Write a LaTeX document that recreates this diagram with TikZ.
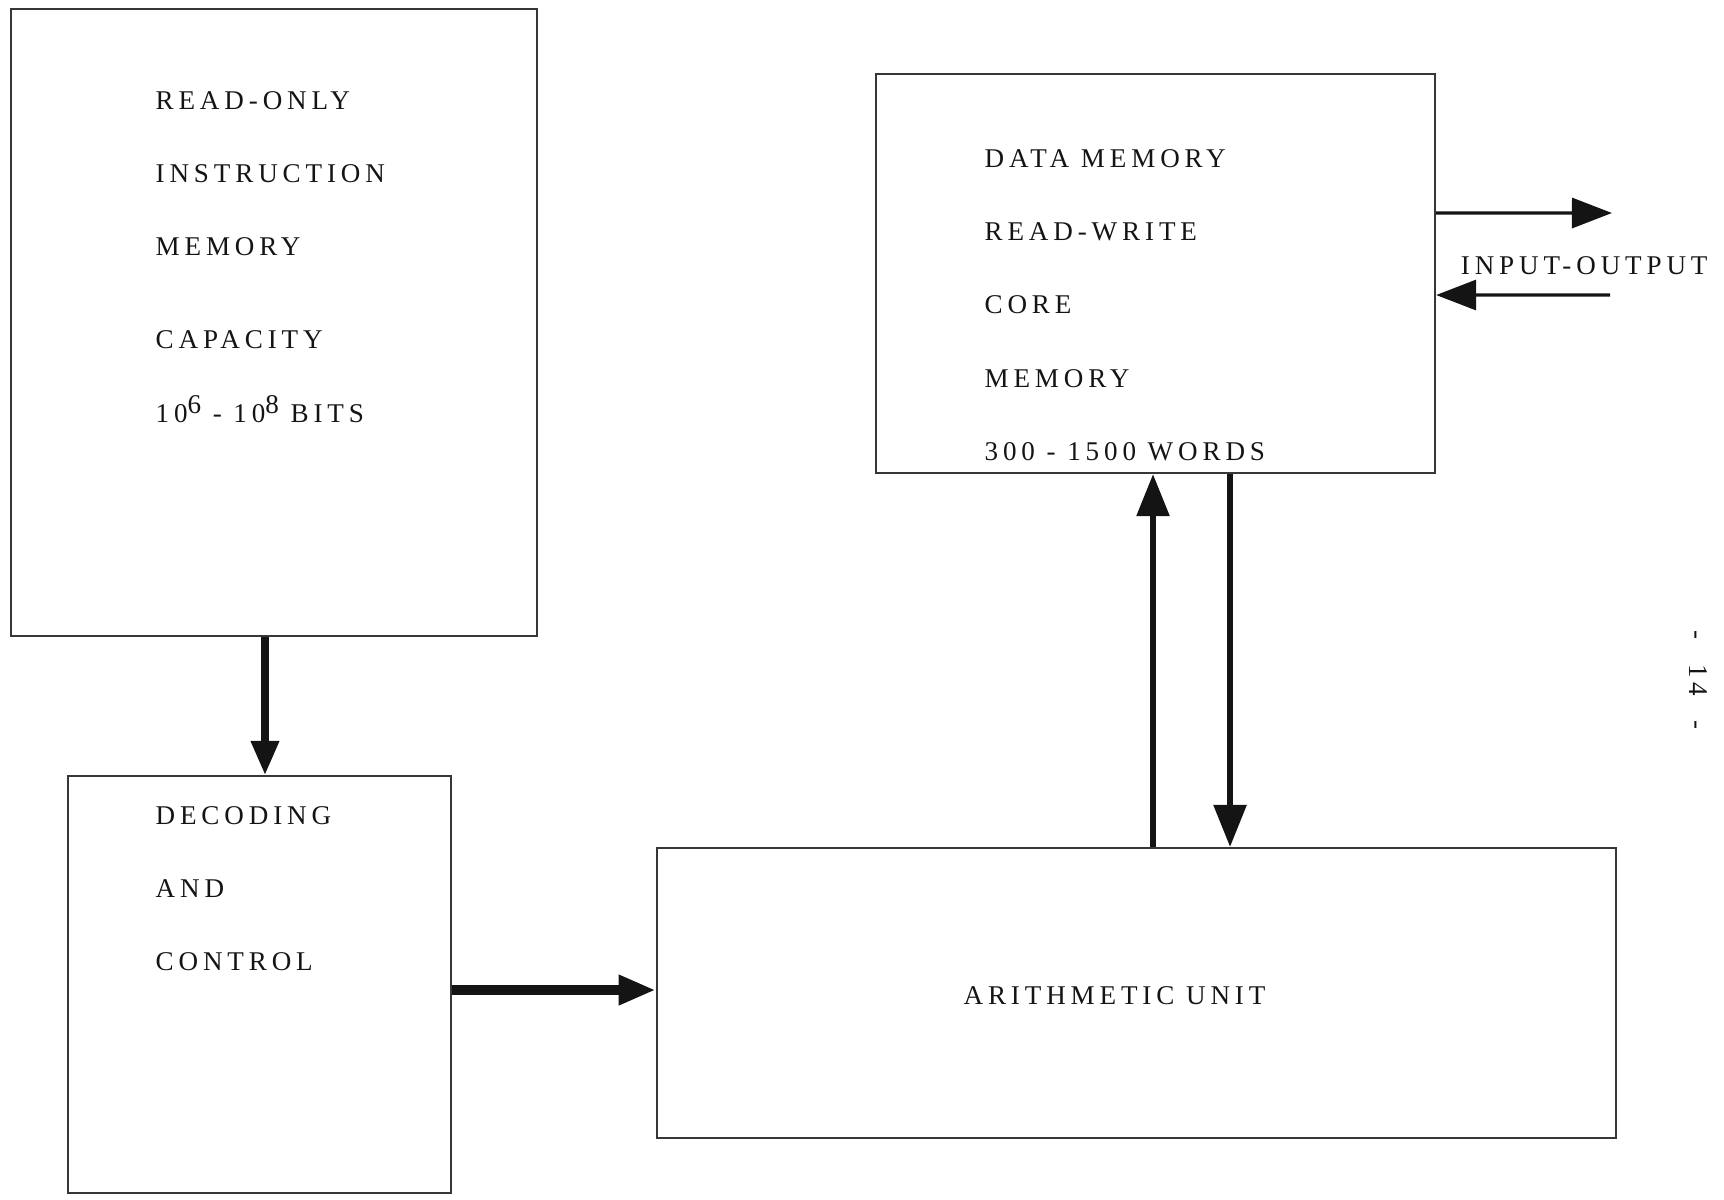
\documentclass[tikz,border=0pt]{standalone}
\usepackage{fontspec}
\setmainfont{Liberation Serif}[LetterSpace=18]
\usepackage{tikz}
\usetikzlibrary{positioning,arrows.meta}
\definecolor{ink}{RGB}{20,20,20}
\definecolor{edge}{RGB}{55,55,55}
\tikzset{
  blk/.style={draw=edge,line width=0.55pt,inner sep=0pt},
  txt/.style={font=\fontsize{7.7}{20.8}\selectfont,text=ink,align=left,inner sep=0pt},
  flow/.style={-{Triangle[length=4.2mm,width=3.2mm]},draw=ink,line width=1.6pt},
  ioflow/.style={-{Triangle[length=4mm,width=3mm]},draw=ink,line width=0.9pt},
}

\begin{document}
\begin{tikzpicture}[x=0.01cm,y=-0.01cm]
  \useasboundingbox (0,0) rectangle (1724,1199);

  % the four units
  \node[blk,minimum width=5.26cm,minimum height=6.27cm] (rom) at (274,322.5) {};
  \node[blk,minimum width=5.59cm,minimum height=3.99cm] (data) at (1155.5,273.5) {};
  \node[blk,minimum width=3.83cm,minimum height=4.17cm] (dec) at (259.5,984.5) {};
  \node[blk,minimum width=9.59cm,minimum height=2.90cm] (arith) at (1136.5,993) {};

  \node[txt,below right=0.83cm and 1.45cm of rom.north west] (romtxt)
    {READ-ONLY\\INSTRUCTION\\MEMORY\\[0.2cm]CAPACITY\\10\raisebox{0.7ex}{6} - 10\raisebox{0.7ex}{8} BITS};
  \node[txt,below right=0.76cm and 1.09cm of data.north west] (datatxt)
    {DATA MEMORY\\READ-WRITE\\CORE\\MEMORY\\300 - 1500 WORDS};
  \node[txt,below right=0.31cm and 0.88cm of dec.north west] (dectxt)
    {DECODING\\AND\\CONTROL};
  \node[txt] (arithtxt) at ([xshift=-0.22cm,yshift=-0.03cm]arith.center) {ARITHMETIC UNIT};

  \node[txt,right=0.24cm of data.east,yshift=0.075cm] (iolbl) {INPUT-OUTPUT};
  \node[txt,rotate=-90] (pagenum) at (1698,680) {-\hspace{0.25cm}14\hspace{0.25cm}-};

  \coordinate (outend) at (1612,213);
  \coordinate (inend) at (1610,295);

  \draw[flow,line width=2pt,-{Triangle[length=3.4mm,width=2.7mm]}]
    ([xshift=-0.09cm]rom.south) -- ([xshift=-0.09cm]rom.south |- dec.north);
  \draw[flow,line width=2.8pt,-{Triangle[length=3.7mm,width=2.8mm]}]
    ([yshift=-0.055cm]dec.east) -- ([yshift=-0.055cm]dec.east -| arith.west);
  \draw[flow] ([xshift=0.165cm]arith.north) -- ([xshift=0.165cm]arith.north |- data.south);
  \draw[flow] ([xshift=0.745cm]data.south) -- ([xshift=0.745cm]data.south |- arith.north);
  \draw[ioflow] ([yshift=0.605cm]data.east) -- (outend);
  \draw[ioflow] (inend) -- ([yshift=-0.215cm]data.east);
\end{tikzpicture}
\end{document}
